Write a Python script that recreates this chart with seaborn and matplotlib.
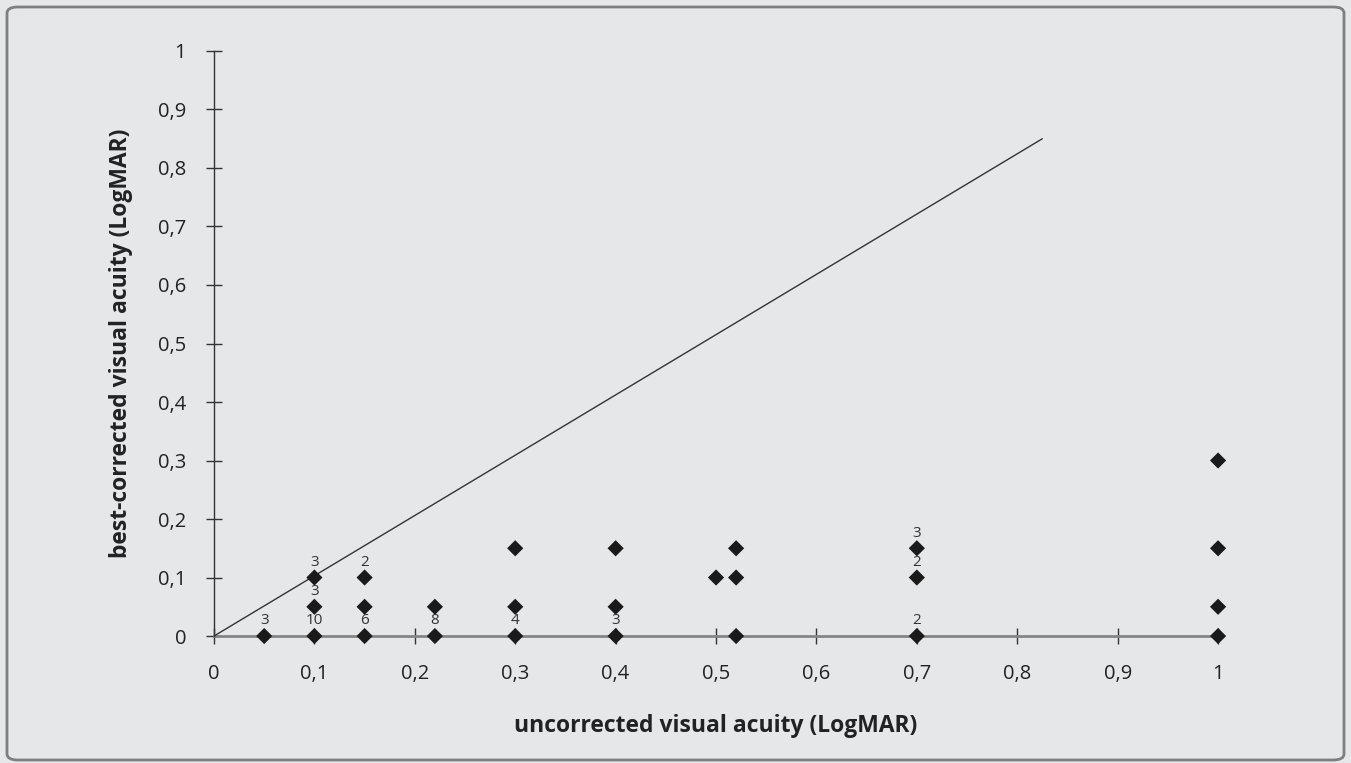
import matplotlib.pyplot as plt
import seaborn as sns
from matplotlib.patches import FancyBboxPatch

# uncorrected vs best-corrected acuity (LogMAR), with eye counts where > 1
uncorrected = [0.05, 0.1, 0.1, 0.1, 0.15, 0.15, 0.15, 0.22, 0.22,
               0.3, 0.3, 0.3, 0.4, 0.4, 0.4, 0.5, 0.52, 0.52, 0.52,
               0.7, 0.7, 0.7, 1, 1, 1, 1]
corrected = [0, 0, 0.05, 0.1, 0, 0.05, 0.1, 0, 0.05,
             0, 0.05, 0.15, 0, 0.05, 0.15, 0.1, 0, 0.1, 0.15,
             0, 0.1, 0.15, 0, 0.05, 0.15, 0.3]
counts = [3, 10, 3, 3, 6, None, 2, 8, None,
          4, None, None, 3, None, None, None, None, None, None,
          2, 2, 3, None, None, None, None]

# reference line drawn in the original
line_x = [0, 0.825]
line_y = [0, 0.85]

tick_vals = [0, 0.1, 0.2, 0.3, 0.4, 0.5, 0.6, 0.7, 0.8, 0.9, 1]
tick_labels = ['0', '0,1', '0,2', '0,3', '0,4', '0,5', '0,6', '0,7',
               '0,8', '0,9', '1']

BG = '#e6e7e9'
sns.set_style('white')
plt.rcParams['font.family'] = ['Open Sans', 'DejaVu Sans']

fig = plt.figure(figsize=(13.51, 7.63), dpi=100, facecolor=BG)
ax = fig.add_axes([0.1584, 0.1664, 0.9016 - 0.1584, 0.9332 - 0.1664])
ax.set_facecolor(BG)

# rounded frame around the whole chart
frame = FancyBboxPatch((7 / 1351, 3 / 763), 1337 / 1351, 753 / 763,
                       boxstyle='round,pad=0,rounding_size=0.008',
                       transform=fig.transFigure, facecolor=BG,
                       edgecolor='#7f7f7f', linewidth=2, zorder=-10)
fig.patches.append(frame)

ax.plot(line_x, line_y, color='#333333', linewidth=1, zorder=2)
sns.scatterplot(x=uncorrected, y=corrected, marker='D', s=68,
                color='#1a1a1a', edgecolor='none', ax=ax, zorder=3,
                clip_on=False)

for x, y, c in zip(uncorrected, corrected, counts):
    if c is None:
        continue
    ax.annotate(str(c), (x, y), xytext=(0, 5.5), textcoords='offset points',
                ha='center', va='bottom', fontsize=11, color='#333333')

ax.set_xlim(0, 1)
ax.set_ylim(0, 1)
ax.set_xticks(tick_vals)
ax.set_xticklabels(tick_labels)
ax.set_yticks(tick_vals)
ax.set_yticklabels(tick_labels)
ax.tick_params(bottom=True, left=True, direction='inout', length=12,
               width=1, colors='#333333', labelsize=14.5, pad=14,
               labelcolor='#222222')

sns.despine(ax=ax)
ax.spines['left'].set_color('#333333')
ax.spines['left'].set_linewidth(1)
ax.spines['bottom'].set_color('#858585')
ax.spines['bottom'].set_linewidth(2)
ax.spines['bottom'].set_zorder(1)

ax.set_xlabel('uncorrected visual acuity (LogMAR)', fontsize=16.5,
              fontweight='bold', color='#222222', labelpad=22)
ax.set_ylabel('best-corrected visual acuity (LogMAR)', fontsize=16.5,
              fontweight='bold', color='#222222', labelpad=18)

fig.savefig('out.png', dpi=100, facecolor=BG)
